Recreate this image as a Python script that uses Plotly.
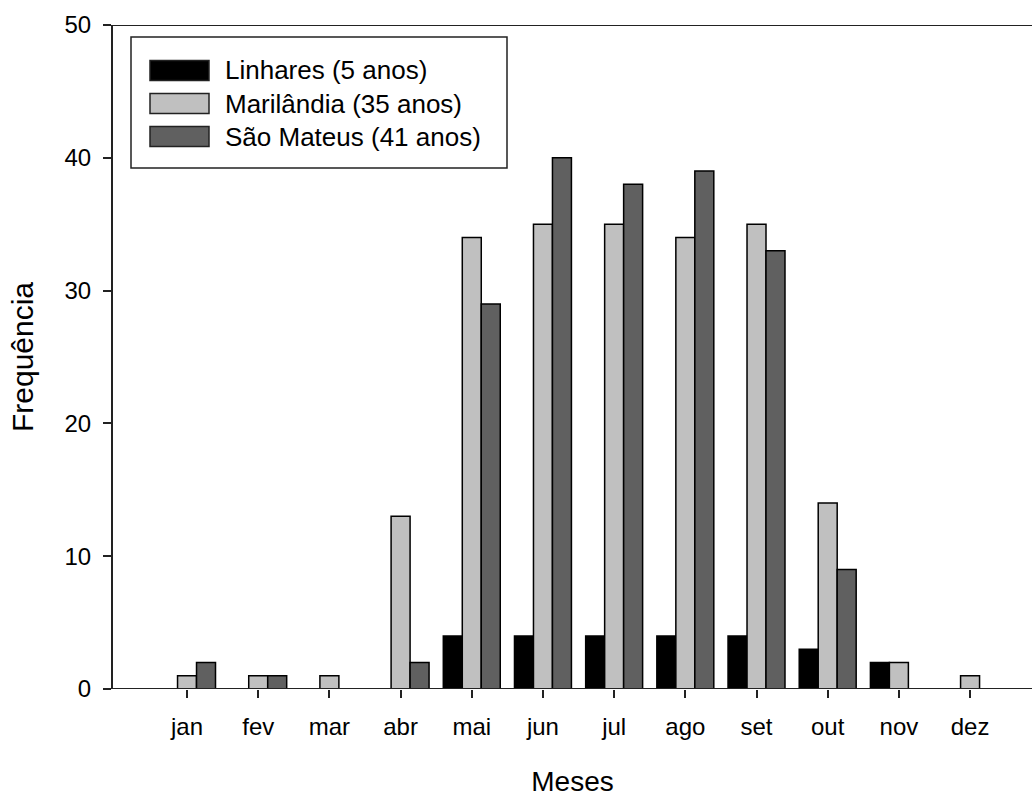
import plotly.graph_objects as go

meses = ["jan", "fev", "mar", "abr", "mai", "jun", "jul", "ago", "set", "out", "nov", "dez"]
linhares = [0, 0, 0, 0, 4, 4, 4, 4, 4, 3, 2, 0]
marilandia = [1, 1, 1, 13, 34, 35, 35, 34, 35, 14, 2, 1]
sao_mateus = [2, 1, 0, 2, 29, 40, 38, 39, 33, 9, 0, 0]
series_names = ["Linhares (5 anos)", "Marilândia (35 anos)", "São Mateus (41 anos)"]
colors = ["#000000", "#c0c0c0", "#606060"]
y_ticks = [0, 10, 20, 30, 40, 50]

W, H = 1032, 797
ML, MR, MT, MB = 113, 0, 25, 108
pw, ph = W - ML - MR, H - MT - MB

def px(x):
    return (x - ML) / pw

def py(y):
    return 1 - (y - MT) / ph

xs = list(range(len(meses)))
fig = go.Figure()
for name, vals, c in zip(series_names, [linhares, marilandia, sao_mateus], colors):
    fig.add_trace(go.Bar(x=xs, y=vals, name=name, marker=dict(color=c, line=dict(color="#000000", width=1.5)),
                         showlegend=False))

font = "Liberation Sans, Arial, sans-serif"
fig.update_layout(
    width=W, height=H,
    margin=dict(l=ML, r=MR, t=MT, b=MB),
    paper_bgcolor="white", plot_bgcolor="white",
    barmode="group", bargap=0.2, bargroupgap=0,
    font=dict(family=font, size=24, color="#000000"),
    xaxis=dict(range=[-1.04, 11.87], tickmode="array", tickvals=xs, ticktext=meses,
               ticks="outside", ticklen=8, tickwidth=1.5, tickcolor="#222",
               showline=False, showgrid=False, zeroline=False, ticklabelstandoff=8,
               title=dict(text="Meses", font=dict(size=28), standoff=32)),
    yaxis=dict(range=[0, 50], tickvals=y_ticks, ticks="outside", ticklen=8, tickwidth=1.5,
               tickcolor="#222", showline=True, linecolor="#222", linewidth=2,
               showgrid=False, zeroline=False, ticklabelstandoff=7,
               title=dict(text="Frequência", font=dict(size=30), standoff=22)),
)

# bottom and top frame lines
fig.add_shape(type="line", xref="paper", yref="y", x0=0, x1=1, y0=0, y1=0, line=dict(color="#222", width=2))
fig.add_shape(type="line", xref="paper", yref="y", x0=0, x1=1, y0=50, y1=50, line=dict(color="#222", width=2))

# legend box
fig.add_shape(type="rect", xref="paper", yref="paper", x0=px(131), x1=px(507), y0=py(168), y1=py(37),
              line=dict(color="#222", width=1.5), fillcolor="white")
for i, (name, c) in enumerate(zip(series_names, colors)):
    yc = 70.5 + 33 * i
    fig.add_shape(type="rect", xref="paper", yref="paper", x0=px(150), x1=px(209),
                  y0=py(yc + 10), y1=py(yc - 10), line=dict(color="#222", width=1.5), fillcolor=c)
    fig.add_annotation(xref="paper", yref="paper", x=px(223), y=py(yc), text=name, showarrow=False,
                       xanchor="left", yanchor="middle", font=dict(size=26, family=font, color="#000"))

fig.write_html("out.html")
